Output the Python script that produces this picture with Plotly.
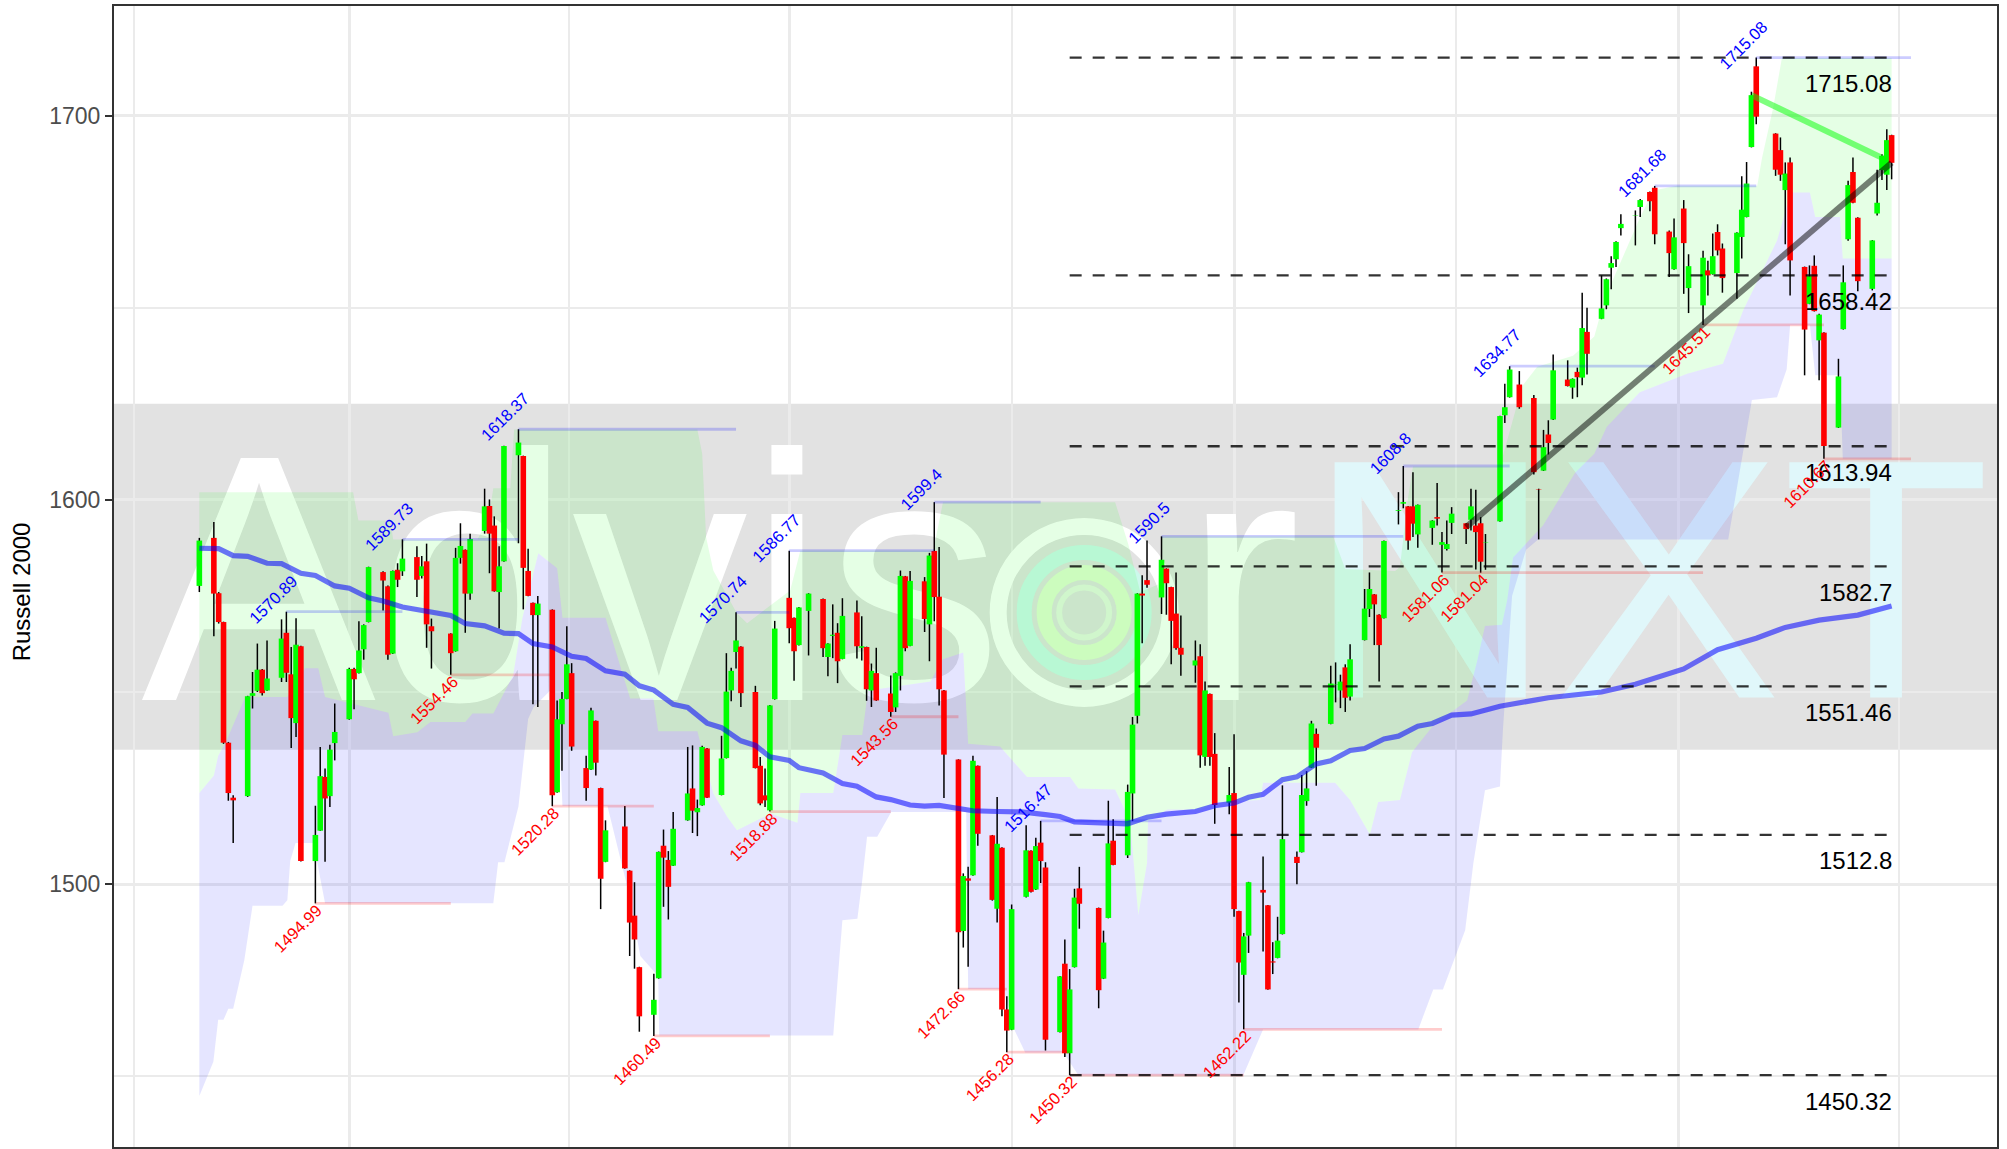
import pandas as pd
import plotly.graph_objects as go

dates = """2019-03-01 2019-03-04 2019-03-05 2019-03-06 2019-03-07 2019-03-08 2019-03-11 2019-03-12 2019-03-13 2019-03-14 2019-03-15
2019-03-18 2019-03-19 2019-03-20 2019-03-21 2019-03-22 2019-03-25 2019-03-26 2019-03-27 2019-03-28 2019-03-29
2019-04-01 2019-04-02 2019-04-03 2019-04-04 2019-04-05 2019-04-08 2019-04-09 2019-04-10 2019-04-11 2019-04-12
2019-04-15 2019-04-16 2019-04-17 2019-04-18 2019-04-22 2019-04-23 2019-04-24 2019-04-25 2019-04-26
2019-04-29 2019-04-30 2019-05-01 2019-05-02 2019-05-03 2019-05-06 2019-05-07 2019-05-08 2019-05-09 2019-05-10
2019-05-13 2019-05-14 2019-05-15 2019-05-16 2019-05-17 2019-05-20 2019-05-21 2019-05-22 2019-05-23 2019-05-24
2019-05-28 2019-05-29 2019-05-30 2019-05-31 2019-06-03 2019-06-04 2019-06-05 2019-06-06 2019-06-07
2019-06-10 2019-06-11 2019-06-12 2019-06-13 2019-06-14 2019-06-17 2019-06-18 2019-06-19 2019-06-20 2019-06-21
2019-06-24 2019-06-25 2019-06-26 2019-06-27 2019-06-28 2019-07-01 2019-07-02 2019-07-03 2019-07-05
2019-07-08 2019-07-09 2019-07-10 2019-07-11 2019-07-12 2019-07-15 2019-07-16 2019-07-17 2019-07-18 2019-07-19
2019-07-22 2019-07-23 2019-07-24 2019-07-25 2019-07-26 2019-07-29 2019-07-30 2019-07-31 2019-08-01 2019-08-02
2019-08-05 2019-08-06 2019-08-07 2019-08-08 2019-08-09 2019-08-12 2019-08-13 2019-08-14 2019-08-15 2019-08-16
2019-08-19 2019-08-20 2019-08-21 2019-08-22 2019-08-23 2019-08-26 2019-08-27 2019-08-28 2019-08-29 2019-08-30
2019-09-03 2019-09-04 2019-09-05 2019-09-06 2019-09-09 2019-09-10 2019-09-11 2019-09-12 2019-09-13
2019-09-16 2019-09-17 2019-09-18 2019-09-19 2019-09-20 2019-09-23 2019-09-24 2019-09-25 2019-09-26 2019-09-27
2019-09-30 2019-10-01 2019-10-02 2019-10-03 2019-10-04 2019-10-07 2019-10-08 2019-10-09 2019-10-10 2019-10-11
2019-10-14 2019-10-15 2019-10-16 2019-10-17 2019-10-18 2019-10-21 2019-10-22 2019-10-23 2019-10-24 2019-10-25
2019-10-28 2019-10-29 2019-10-30 2019-10-31 2019-11-01 2019-11-04 2019-11-05 2019-11-06 2019-11-07 2019-11-08
2019-11-11 2019-11-12 2019-11-13 2019-11-14 2019-11-15 2019-11-18 2019-11-19 2019-11-20 2019-11-21 2019-11-22
2019-11-25 2019-11-26 2019-11-27 2019-11-29 2019-12-02 2019-12-03 2019-12-04 2019-12-05 2019-12-06
2019-12-09 2019-12-10 2019-12-11 2019-12-12 2019-12-13 2019-12-16 2019-12-17 2019-12-18 2019-12-19 2019-12-20
2019-12-23 2019-12-24 2019-12-26 2019-12-27 2019-12-30 2019-12-31 2020-01-02 2020-01-03
2020-01-06 2020-01-07 2020-01-08 2020-01-09 2020-01-10 2020-01-13 2020-01-14 2020-01-15 2020-01-16 2020-01-17
2020-01-21 2020-01-22 2020-01-23 2020-01-24 2020-01-27 2020-01-28 2020-01-29 2020-01-30 2020-01-31
2020-02-03 2020-02-04 2020-02-05 2020-02-06 2020-02-07 2020-02-10 2020-02-11 2020-02-12 2020-02-13 2020-02-14""".split()

# direction, body top, body bottom, high, low: one row per session
rows = """G 1589.4 1577.6 1590.1 1576.0
R 1590.1 1575.6 1594.2 1564.5
R 1575.7 1568.2 1576 1567.8
R 1568.2 1536.8 1568.3 1536.5
R 1536.8 1523.7 1537 1521.7
R 1522.5 1521.8 1523.1 1510.7
G 1548.9 1522.9 1549 1522.7
G 1549.7 1549.0 1555.2 1545.7
G 1555.8 1550.3 1562.6 1550
R 1555.8 1549.7 1556 1549.1
G 1553.5 1550.4 1563.4 1550.3
G 1563.9 1553.7 1568.9 1552.6
R 1565.4 1555.0 1570.89 1552.6
R 1554.6 1543.2 1561.7 1535.4
G 1562.3 1541.9 1569.2 1538.3
R 1561.9 1506.0 1562 1505.9
G 1512.8 1506 1520.4 1494.99
G 1528.1 1513.9 1535.7 1513.8
R 1527.9 1522.3 1530.1 1505.8
G 1535 1522.9 1536.3 1520.1
G 1539.6 1536.7 1547 1532.2
G 1556 1542.9 1556.3 1542.8
R 1556 1553.3 1556.3 1545.5
G 1560.8 1554.9 1568.4 1554.8
G 1567.4 1561.1 1567.6 1558.4
G 1582.5 1568.2 1582.6 1568.1
R 1581.2 1579 1581.4 1571.2
R 1577.5 1559.7 1577.7 1558.4
G 1581.5 1560 1581.6 1559.9
R 1581.8 1579.2 1583.5 1577.3
G 1584.7 1581.4 1589.73 1580.2
R 1585.1 1579.2 1587.9 1574.7
G 1582.7 1580.2 1585.4 1579.5
R 1584 1567.6 1588.6 1561.5
R 1567.1 1565.8 1569.1 1556.1
R 1565.2 1560.1 1565.3 1554.46
G 1584.9 1560.6 1587.5 1560.5
G 1588 1584.9 1593.9 1583.4
R 1587 1575.6 1587.1 1565.4
G 1589.8 1575.6 1591.2 1574
G 1598.3 1591.9 1602.9 1591.2
R 1598.4 1591.2 1600.1 1580.9
R 1593.3 1576.2 1595.7 1576.1
G 1582.7 1576 1587.9 1566.5
G 1614 1584 1614.1 1583.9
G 1614.9 1611.6 1618.37 1588.7
R 1611.4 1582.3 1611.5 1571.5
R 1581.5 1575 1587.3 1574.9
R 1573.2 1570 1573.3 1546.8
G 1573 1570 1575 1546.1
R 1571.4 1523.1 1571.5 1520.28
G 1542.9 1523.9 1547.8 1523.8
G 1548.2 1541.6 1550 1529.5
G 1557.2 1548.2 1567.1 1548.1
R 1554.9 1535.8 1557.5 1534.7
R 1530.2 1525 1533.4 1521.7
G 1545.2 1529.8 1545.9 1529.7
R 1542.5 1531.6 1542.6 1528.3
R 1525 1501.4 1525.1 1493.5
G 1514 1505.8 1516.6 1505.7
R 1515 1504.1 1520.3 1504
R 1503.5 1490 1503.6 1481.3
R 1491.8 1485.6 1500.5 1478
R 1478.4 1465.6 1478.5 1461.6
G 1469.9 1466 1476.7 1460.49
G 1508.4 1475.5 1508.5 1475.4
R 1510 1506.9 1514.2 1494.1
R 1506.3 1499.3 1508.6 1490.8
G 1514.4 1504.8 1518.8 1504.7
G 1523.6 1516.6 1535.7 1516.5
R 1524.9 1519.1 1536.1 1513.3
G 1519.8 1518.7 1522 1512.5
G 1535.7 1520.5 1536 1520.4
R 1535.3 1522.5 1535.4 1522.4
G 1532.7 1523.2 1538.6 1523.1
G 1550.1 1532.8 1560.1 1532.7
G 1555.5 1550.4 1556.3 1547.6
G 1563.4 1560.4 1570.74 1556.1
R 1561.8 1549.7 1561.9 1546.1
R 1550 1530.2 1551.6 1530.1
R 1530.8 1521 1533.1 1520.5
R 1523.1 1521.8 1530.1 1520.1
G 1546.5 1519.2 1546.6 1518.88
G 1566.5 1548.1 1568.5 1548
R 1574.5 1566.6 1586.77 1562.7
R 1569.3 1560.6 1569.4 1552.9
G 1572 1562.2 1572.1 1562.1
G 1575.6 1571.1 1575.7 1559.5
R 1574.2 1561.4 1574.3 1559.1
G 1562.6 1559.1 1562.7 1554.1
G 1564.9 1564.6 1572.8 1558.8
R 1565.4 1558 1567.9 1552.3
G 1569.8 1558.6 1574.4 1558.5
R 1570.7 1561.9 1573.8 1558.7
G 1561.9 1561.5 1569.7 1558.2
R 1561.7 1550.7 1561.8 1547.7
G 1555.5 1550.4 1557.4 1546.1
R 1554.9 1547.8 1561.5 1547.7
R 1549.6 1544.8 1554.3 1543.56
G 1554.9 1546 1555.1 1544.8
G 1580.2 1554.2 1581.6 1550.4
R 1580.1 1561.4 1580.2 1560.6
G 1578.9 1562 1581.5 1561.9
R 1578.8 1569 1579.9 1565.6
G 1585.5 1567.6 1586.2 1558
R 1586.7 1574.7 1599.4 1568.4
R 1574.8 1550.7 1587.7 1546.5
R 1550.4 1533.7 1550.5 1522.4
R 1532.4 1487.5 1532.5 1472.66
G 1502.1 1487.8 1502.8 1483.5
R 1501.5 1500.9 1504.5 1478.5
G 1532.1 1502.3 1533.4 1502.2
R 1530.8 1513.1 1530.9 1510
R 1512.7 1495.9 1512.8 1495.7
G 1510.5 1493.6 1522.7 1490
R 1509.5 1467.4 1509.6 1465.6
R 1467.4 1461.9 1470.8 1456.28
G 1493.5 1462.1 1494.7 1462
G 1508.8 1496.7 1515.3 1496.5
R 1508.7 1498 1508.8 1497.8
G 1509.9 1498.6 1512.1 1498.5
R 1510.8 1506 1516.47 1500.3
R 1504.3 1459.5 1505.7 1456.7
G 1476 1461.5 1476.1 1461.4
R 1479.3 1456 1485.6 1455
G 1472.6 1456 1477.9 1450.32
G 1496.5 1478.4 1498.8 1478.3
R 1498.9 1494.9 1504.5 1488.4
R 1493.8 1472.4 1493.9 1467.7
G 1484.8 1475.4 1487.9 1475.3
G 1510.6 1491.2 1521.7 1491.1
R 1511.3 1505 1516.9 1504.9
G 1524 1507.5 1525.9 1506.8
G 1541.5 1523.6 1543.5 1516.4
G 1575.6 1543.8 1575.7 1541.8
R 1575.6 1575.1 1580.4 1562.7
R 1579.1 1577.9 1589.4 1577.1
G 1584.4 1574.6 1590.5 1570.3
R 1582.1 1578.3 1582.2 1570.1
R 1577.3 1568.5 1577.4 1557.2
R 1570.4 1561.4 1581.1 1561
R 1561.5 1559.7 1569.9 1554.2
G 1558.2 1556.9 1563.4 1552.4
R 1559.3 1533.5 1562.4 1530.3
G 1550.4 1533.1 1552.7 1530.8
R 1549.5 1533.1 1549.6 1530.8
R 1533.9 1520.6 1539.3 1515.7
G 1523.2 1521.2 1530.5 1518.2
R 1523.7 1493.5 1539 1491.5
R 1493 1479.6 1493.1 1469.2
G 1486.4 1476.4 1487.3 1462.22
G 1500.5 1486.6 1500.6 1482.1
R 1498.5 1497.8 1507.2 1482.5
R 1494.5 1472.6 1494.6 1472.5
R 1479.9 1479.6 1484.9 1476.6
G 1485.3 1480.8 1491.5 1480.7
G 1511.7 1487 1525.7 1486.9
R 1507.1 1505.5 1508.5 1500
G 1523.2 1508.3 1528.4 1508.2
G 1524.9 1521.6 1529.4 1520.4
G 1541.8 1530.3 1542.5 1530.2
R 1539.1 1535.5 1540.5 1525.6
G 1552.2 1541.7 1556.8 1541.6
G 1552 1551.9 1557.7 1547.3
G 1552.7 1550.4 1554.5 1545.8
R 1556.4 1548.5 1557.2 1544.8
G 1558.5 1548.8 1562.4 1547.8
G 1571.7 1563.5 1576.8 1563.4
G 1576.8 1571.6 1581.1 1569.5
R 1575.4 1572.8 1575.5 1562.2
R 1570.1 1562.2 1570.2 1552.7
G 1589.3 1569.2 1589.4 1569.1
G 1597.3 1597.1 1602 1593.6
G 1599.4 1599 1608.8 1597.8
R 1598.3 1589.4 1598.4 1587
R 1598.3 1593.8 1607.2 1590.3
G 1598.7 1591 1598.8 1587.5
G 1594.6 1592.7 1594.7 1588.3
R 1595.5 1595.1 1604.4 1593.3
G 1589 1588.3 1591.6 1581.06
G 1588.5 1587.2 1594.6 1586.8
G 1596.4 1594 1598.1 1591.1
R 1593.9 1592.4 1594 1588.5
G 1598.3 1594.8 1602.9 1592
R 1593.3 1591.6 1602.6 1581.9
R 1593.9 1583.9 1595.5 1581.04
G 1588.9 1588.8 1591.1 1581.8
G 1621.8 1594.4 1621.9 1594.3
G 1624.1 1622 1630.2 1620
G 1633.9 1626.7 1634.77 1626.6
R 1630 1624.1 1633.5 1623.7
R 1626.5 1607.2 1627.3 1606.6
R 1602.7 1602.6 1602.9 1589.7
G 1613.7 1607.6 1618.2 1607.5
R 1617 1614.8 1620.7 1611.8
G 1633.7 1620.9 1637.8 1620.8
R 1631.3 1629.6 1636.3 1629.5
G 1631.5 1629.2 1631.6 1626.3
R 1633.3 1631.9 1634.4 1626.7
G 1644.7 1631.8 1653.9 1629.8
R 1643.7 1638 1650 1632.6
G 1649.8 1647.1 1658.4 1647
G 1657.4 1650.6 1657.6 1649.6
G 1661.6 1660.4 1663.4 1654.8
G 1667.1 1662.6 1667.3 1660.6
G 1671.8 1670.7 1674.3 1668.8
G 1674 1673.9 1675.3 1666.2
G 1678 1676.2 1678.3 1673.6
R 1680.1 1677.7 1680.2 1675.1
R 1681.2 1669.1 1681.68 1666.5
R 1669.8 1664.2 1670.1 1658
G 1668.3 1660 1673.2 1659.9
R 1675.8 1666.8 1678 1653.6
G 1660.8 1655.1 1663.9 1648.6
G 1663 1650.6 1664.8 1645.51
R 1659.7 1658.4 1662.2 1653.2
G 1663.4 1658.7 1669.3 1658.6
R 1669.7 1664.9 1671.7 1663.6
R 1665.4 1657.7 1666.7 1653.9
G 1669.5 1659 1669.6 1652.3
G 1675.5 1668.4 1684.2 1662.8
G 1682.3 1673.6 1687.9 1673.5
G 1705.3 1691.8 1706.2 1691.7
R 1712.8 1699.7 1715.08 1697.7
R 1695.3 1685.9 1695.4 1684.3
R 1691 1684.6 1694.3 1683
G 1684.9 1680.6 1687.8 1666.5
R 1687.8 1662.3 1689.1 1653.2
R 1660.6 1644.3 1660.7 1632.4
G 1658.2 1651 1661 1650.9
R 1660.9 1649.1 1663.6 1649
G 1648.2 1641.5 1648.4 1631.1
R 1643.5 1614 1643.6 1610.67
G 1632.1 1618.8 1636.7 1618.7
G 1656.6 1644.4 1661 1644.3
G 1681.9 1667.8 1683 1667.4
R 1685.3 1677.3 1689.1 1677.2
R 1673.4 1656.9 1673.5 1654.3
G 1667.5 1654.9 1667.6 1654.5
G 1677.3 1674.5 1685.9 1674
G 1689.5 1685.8 1689.9 1683.2
G 1693.6 1684.6 1696.4 1680.6
R 1694.9 1687.7 1695 1683.4"""
parsed = [r.split() for r in rows.splitlines()]
assert len(parsed) == len(dates), (len(parsed), len(dates))
direction = [r[0] for r in parsed]
body_top = [float(r[1]) for r in parsed]
body_bottom = [float(r[2]) for r in parsed]
highs = [float(r[3]) for r in parsed]
lows = [float(r[4]) for r in parsed]

ma_dates = ["2019-03-01","2019-03-05","2019-03-08","2019-03-11","2019-03-15","2019-03-18","2019-03-22","2019-03-25","2019-03-29","2019-04-01","2019-04-05","2019-04-08","2019-04-12","2019-04-15","2019-04-19","2019-04-22","2019-04-25","2019-04-29",
"2019-05-03","2019-05-06","2019-05-09","2019-05-13","2019-05-17","2019-05-20","2019-05-24","2019-05-28","2019-05-31","2019-06-03","2019-06-07","2019-06-10","2019-06-14","2019-06-17","2019-06-21","2019-06-24","2019-06-27",
"2019-07-01","2019-07-03","2019-07-08","2019-07-12","2019-07-15","2019-07-19","2019-07-22","2019-07-26","2019-07-29","2019-08-01","2019-08-05","2019-08-08","2019-08-13","2019-08-18","2019-08-23","2019-08-26","2019-08-29",
"2019-09-05","2019-09-09","2019-09-13","2019-09-17","2019-09-23","2019-09-27","2019-10-01","2019-10-04","2019-10-07","2019-10-11","2019-10-14","2019-10-18","2019-10-21","2019-10-25","2019-10-28","2019-11-01","2019-11-04","2019-11-08","2019-11-11","2019-11-15","2019-11-19","2019-11-25",
"2019-12-05","2019-12-16","2019-12-23","2020-01-02","2020-01-09","2020-01-17","2020-01-23","2020-01-30","2020-02-07","2020-02-14"]
ma_values = [1587.4,1587.3,1585.5,1585.3,1583.5,1583.4,1580.9,1580.3,1577.6,1577,1574.5,1573.7,1572.1,1571.5,1570.5,1569.9,1567.8,1567.2,
1565.3,1565.2,1562.6,1561.7,1559.3,1558.7,1555.5,1554.6,1551.6,1550.5,1546.8,1546,1541.9,1540.7,1537.3,1536.1,1533.1,
1532.2,1530.3,1528.9,1526.2,1525.5,1522.7,1522,1520.6,1520.3,1520.5,1519.7,1519.1,1518.9,1518.8,1518.1,1517.6,1516.2,
1515.7,1515.7,1517.4,1518.2,1518.9,1520.4,1521.1,1522.6,1523.4,1527.2,1527.9,1531.3,1532.1,1534.8,1535.3,1537.8,1538.5,1541.1,1541.8,1544,1544.3,1546.3,
1548.5,1550,1552,1556,1561,1564,1566.8,1568.7,1570,1572.4]

# Band edges: calendar days after the first session, with index level
band_top_days = [0,31.8,32.9,39.5,40.1,57.5,59.8,60.8,64.3,65.1,103,104,104.8,106.3,111.2,113.3,116,122.2,124.3,151.8,153.8,189.4,192.1,194.6,198.3,199.1,234.5,237,247.3,248.3,250,251,269,271,273.6,276.7,284.1,288.5,290.7,297.6,300.7,305.6,322.2,323.2,325.5,327.3,350]
band_top_values = [1602,1602,1594.6,1594.6,1589.7,1589.7,1595,1603,1603,1618.3,1618.3,1612,1590.3,1581.6,1570.4,1567.9,1570.5,1576.4,1586.8,1586.8,1599.4,1599.4,1588.6,1576,1578,1590.5,1590.5,1582,1581.5,1582.5,1600.7,1608.7,1608.7,1617.6,1629.6,1634.6,1637.5,1642.5,1652.5,1672.4,1680.5,1681.7,1681.7,1689,1702,1715,1715]
band_mid_days = [0,3,3.9,5.4,9.5,18.2,21.9,24.6,26,39.1,40.1,45.1,47.8,55,56.5,60.8,64.9,66.8,70.1,74,75.1,84,89.1,93.9,94.9,103,106.3,109.2,111.2,118.1,123.7,124.3,131.1,133,137.1,138.3,151.2,153.8,158,159,165.6,168.1,171.2,180.1,181.8,189.4,192.5,194.2,196,196.2,200.2,207,210.5,219.4,220,234.9,238,242.1,243.8,248.3,250.8,255.2,262.2,264.3,265.9,269.4,270.5,271.7,277.9,284.5,288.5,291.1,297.9,307.7,315.1,319.3,326.3,327.5,329,333.1,334.2,339.3,339.9,350]
band_mid_values = [1523.7,1528.3,1533.4,1536.7,1548.7,1548.7,1556.2,1556.2,1548.7,1544.6,1538.5,1539.5,1542.2,1542.2,1544.4,1544.4,1554.3,1569.2,1586.1,1582.2,1569.3,1569.3,1548.3,1548.3,1539.8,1539.8,1523.6,1517.5,1514,1518.4,1516,1523.7,1523.7,1538.8,1538.8,1550.4,1552.7,1558.5,1560.3,1536.5,1535.8,1532.3,1527.9,1527.9,1524.9,1524.6,1516.4,1492,1505.5,1516.4,1519.4,1519.4,1521.4,1521.9,1526.4,1526.4,1521.9,1512.9,1521.4,1521.9,1534.3,1541.3,1547.8,1558.2,1567.2,1567.5,1574,1585,1593.3,1607,1612,1619,1628,1632.8,1635.4,1649.3,1667.5,1672.7,1680,1680,1673.6,1673.6,1662.8,1662.8]
band_low_days = [0,2.9,3.9,5,6,7,7.4,9.3,11,17.2,18.2,18.8,19.9,23.6,24.4,26,60.8,61.8,63.1,66,68,69.1,72.6,74.6,75.1,84.4,88.5,91.2,94.9,95.1,131.1,133,136.1,137.1,138.1,140.2,143.1,158.6,159,166.3,168.7,170.8,178.7,181.8,215.9,220,252.1,255.2,257.2,261.8,263.5,265.9,269,269.6,271.5,274.4,276.9,316.2,321.1,326.3,328.3,329,333.1,334.2,339.3,339.9,350]
band_low_values = [1444.9,1453.8,1464.7,1464.7,1467.6,1467.6,1469.7,1480.2,1494.4,1494.4,1495.8,1506,1510.7,1510.7,1505.6,1495,1495,1505.7,1505.7,1520.2,1543,1546,1550.4,1534,1520.3,1520.3,1499.3,1481.3,1476,1460.6,1460.6,1490.6,1491,1501,1512.3,1512.3,1518.8,1518.8,1472.7,1472.7,1461.7,1456.2,1456.2,1450.3,1450.3,1462.2,1462.2,1472.6,1472.6,1488,1505.5,1524.4,1525.4,1540,1575,1587,1589.7,1589.7,1626,1626.7,1634,1645.4,1645.4,1632.4,1632.4,1610.7,1610.7]

peak_dates = ["2019-03-19","2019-04-12","2019-05-06","2019-06-20","2019-07-01","2019-07-31","2019-08-22","2019-09-16","2019-11-05","2019-11-27","2019-12-27","2020-01-17"]
peak_values = [1570.89,1589.73,1618.37,1570.74,1586.77,1599.4,1516.47,1590.5,1608.8,1634.77,1681.68,1715.08]
trough_dates = ["2019-03-25","2019-04-22","2019-05-13","2019-06-03","2019-06-27","2019-07-22","2019-08-05","2019-08-15","2019-08-28","2019-10-03","2019-11-13","2019-11-21","2020-01-06","2020-01-31"]
trough_values = [1494.99,1554.46,1520.28,1460.49,1518.88,1543.56,1472.66,1456.28,1450.32,1462.22,1581.06,1581.04,1645.51,1610.67]
segment_end = "2020-02-18"

fib_levels = [1715.08,1658.42,1613.94,1582.7,1551.46,1512.8,1450.32]
fib_start = "2019-08-28"
band_range = (1535, 1625)

up_trend_dates = ["2019-11-18","2020-02-14"]
up_trend_values = [1592.9,1687.7]
down_trend_dates = ["2020-01-16","2020-02-13"]
down_trend_values = [1705.3,1688.4]

y_ticks = [1500,1600,1700]
y_minor = [1450,1550,1650]
x_ticks = ["2019-04-01","2019-07-01","2019-10-01","2020-01-01"]
x_minor = ["2019-02-15 12:00","2019-05-16 12:00","2019-08-16","2019-11-16","2020-02-15 12:00"]
x_range = ["2019-02-11 08:24","2020-03-06 19:00"]
y_range = [1431.6,1728.5]

start = pd.Timestamp(dates[0])
def from_days(days):
    return [start + pd.Timedelta(days=float(d)) for d in days]

GREY = "rgba(0,0,0,0.115)"
fig = go.Figure()
def add(**kw):
    fig.add_trace(go.Scatter(hoverinfo="skip", showlegend=False, **kw))

# Watermark, under the bands
WM = "Liberation Sans"
wm_y = 1570.8
add(x=["2019-02-17"], y=[wm_y], mode="text", text=["Advis"], textposition="middle right",
    textfont=dict(family=WM, size=352, color="white"), cliponaxis=False)
add(x=["2019-09-20 12:00"], y=[wm_y], mode="text", text=["r"], textposition="middle right",
    textfont=dict(family=WM, size=352, color="white"), cliponaxis=False)
add(x=["2019-10-16"], y=[wm_y], mode="text", text=["NXT"], textposition="middle right",
    textfont=dict(family=WM, size=342, color="rgb(224,247,250)"), cliponaxis=False)
logo = ("2019-08-31", 1570.7)
for size, width, col in [(172, 17, "white"), (120, 15, "rgb(205,248,236)"), (80, 15, "rgb(228,252,212)"), (50, 6, "rgb(232,245,228)")]:
    add(x=[logo[0]], y=[logo[1]], mode="markers",
        marker=dict(symbol="circle-open", size=size, color=col, line=dict(width=width, color=col)))

# Bands
tx, mx, lx = from_days(band_top_days), from_days(band_mid_days), from_days(band_low_days)
add(x=tx + mx[::-1], y=band_top_values + band_mid_values[::-1], mode="lines", line=dict(width=0),
    fill="toself", fillcolor="rgba(0,255,0,0.10)")
add(x=mx + lx[::-1], y=band_mid_values + band_low_values[::-1], mode="lines", line=dict(width=0),
    fill="toself", fillcolor="rgba(0,0,255,0.10)")

# Wicks
wx, wy = [], []
for d, h, l in zip(dates, highs, lows):
    wx += [d, d, None]; wy += [l, h, None]
add(x=wx, y=wy, mode="lines", line=dict(color="black", width=1.5))

# Bodies, in date order so neighbours overlap as they do in the source
i = 0
while i < len(dates):
    j = i
    bx, by = [], []
    while j < len(dates) and direction[j] == direction[i]:
        bx += [dates[j], dates[j], None]; by += [body_bottom[j], body_top[j], None]
        j += 1
    add(x=bx, y=by, mode="lines",
        line=dict(color="rgb(0,255,0)" if direction[i] == "G" else "rgb(255,0,0)", width=5.6))
    i = j

# Average
add(x=ma_dates, y=ma_values, mode="lines", line=dict(color="rgba(0,0,255,0.55)", width=5.2))

# Segments from each swing point to the next
for ds, vs, col in [(peak_dates, peak_values, "rgba(0,0,255,0.2)"), (trough_dates, trough_values, "rgba(255,0,0,0.2)")]:
    sx, sy = [], []
    for k, (d, v) in enumerate(zip(ds, vs)):
        sx += [d, ds[k + 1] if k + 1 < len(ds) else segment_end, None]; sy += [v, v, None]
    add(x=sx, y=sy, mode="lines", line=dict(color=col, width=2.8))

# Trend lines
add(x=up_trend_dates, y=up_trend_values, mode="lines", line=dict(color="rgba(0,0,0,0.5)", width=6))
add(x=down_trend_dates, y=down_trend_values, mode="lines", line=dict(color="rgba(0,255,0,0.5)", width=6))

# Fibonacci levels
fx, fy = [], []
for v in fib_levels:
    fx += [fib_start, dates[-1], None]; fy += [v, v, None]
add(x=fx, y=fy, mode="lines", line=dict(color="rgba(0,0,0,0.8)", width=2.3, dash="12px,11px"))

ann = []
for v in fib_levels:
    ann.append(dict(x=dates[-1], y=v, text=str(v), showarrow=False, xanchor="right", yanchor="middle",
                    xshift=2, yshift=-26, font=dict(family=WM, size=24, color="black")))
for d, v in zip(peak_dates, peak_values):
    ann.append(dict(x=d, y=v, text=str(v), showarrow=False, textangle=-45, xshift=-13, yshift=13,
                    font=dict(family=WM, size=16.5, color="blue")))
for d, v in zip(trough_dates, trough_values):
    ann.append(dict(x=d, y=v, text=str(v), showarrow=False, textangle=-45, xshift=-17, yshift=-25,
                    font=dict(family=WM, size=16.5, color="red")))
ann.append(dict(xref="paper", yref="paper", x=-0.0494, y=0.487, text="Russell 2000", textangle=-90,
                xanchor="center", yanchor="middle", showarrow=False,
                font=dict(family=WM, size=24, color="black")))

axis = dict(showline=True, linewidth=2, linecolor="#333333", mirror=True, ticks="outside",
            ticklen=7, tickwidth=2, tickcolor="#333333", showgrid=True, gridcolor="rgb(235,235,235)",
            gridwidth=2.6, zeroline=False)
fig.update_layout(
    width=2007, height=1149, plot_bgcolor="white", paper_bgcolor="white", showlegend=False,
    margin=dict(l=114, r=10, t=6, b=2, autoexpand=False), annotations=ann,
    font=dict(family=WM),
    xaxis=dict(axis, type="date", range=x_range, tickmode="array", tickvals=x_ticks, showticklabels=False,
               minor=dict(tickmode="array", tickvals=x_minor, showgrid=True, gridcolor="rgb(235,235,235)", gridwidth=1.5, ticks="")),
    yaxis=dict(axis, range=y_range, tickmode="array", tickvals=y_ticks,
               tickfont=dict(family=WM, size=23, color="#4d4d4d"),
               minor=dict(tickmode="array", tickvals=y_minor, showgrid=True, gridcolor="rgb(235,235,235)", gridwidth=1.5, ticks="")),
    shapes=[dict(type="rect", layer="between", xref="paper", yref="y", x0=0, x1=1, y0=band_range[0], y1=band_range[1],
                 fillcolor=GREY, line=dict(width=0))],
)
fig.write_html("out.html", config=dict(displayModeBar=False),
               post_script="document.body.style.margin='0';document.body.style.overflow='hidden';")
